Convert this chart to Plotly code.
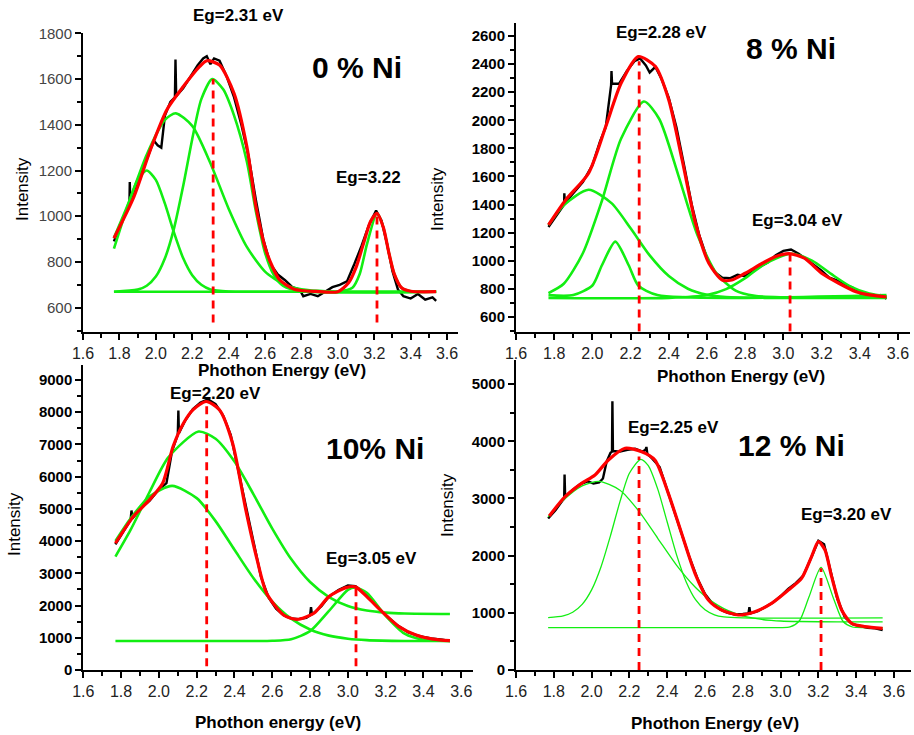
import plotly.graph_objects as go

# ================= DATA =================
x_tick_vals = [1.6, 1.8, 2.0, 2.2, 2.4, 2.6, 2.8, 3.0, 3.2, 3.4, 3.6]
x_tick_text = ["1.6", "1.8", "2.0", "2.2", "2.4", "2.6", "2.8", "3.0", "3.2", "3.4", "3.6"]

# ---- 0 % Ni ----
ni0_y_ticks = [600, 800, 1000, 1200, 1400, 1600, 1800]
ni0_data_x = [1.77, 1.80, 1.84, 1.855, 1.857, 1.86, 1.90, 1.94, 1.97, 1.99, 2.01, 2.03, 2.05, 2.08, 2.105, 2.108,
              2.112, 2.15, 2.19, 2.23, 2.26, 2.28, 2.30, 2.32, 2.35, 2.39, 2.43, 2.47, 2.51, 2.55, 2.59, 2.63, 2.67,
              2.71, 2.75, 2.79, 2.81, 2.85, 2.89, 2.93, 2.97, 3.01, 3.05, 3.09, 3.13, 3.17, 3.21, 3.24, 3.27, 3.30,
              3.33, 3.36, 3.40, 3.44, 3.48, 3.52, 3.54]
ni0_data_y = [890, 955, 1030, 1050, 1150, 1055, 1140, 1230, 1290, 1330, 1310, 1300, 1440, 1500, 1520, 1685,
              1525, 1560, 1610, 1660, 1690, 1700, 1665, 1690, 1680, 1610, 1520, 1400, 1260, 1070, 900, 790, 745,
              720, 690, 680, 650, 660, 650, 670, 690, 700, 715, 790, 870, 960, 1025, 980, 880, 760,
              680, 650, 640, 660, 635, 645, 630]
ni0_fit_x = [1.77, 1.88, 1.97, 2.06, 2.15, 2.24, 2.28, 2.35, 2.43, 2.50, 2.55, 2.61, 2.68, 2.76, 2.88, 3.00,
             3.06, 3.10, 3.14, 3.18, 3.215, 3.25, 3.28, 3.31, 3.35, 3.40, 3.54]
ni0_fit_y = [904, 1086, 1290, 1465, 1566, 1654, 1680, 1661, 1537, 1305, 1042, 839, 722, 681, 671, 670,
             710, 776, 878, 978, 1013, 951, 841, 747, 687, 672, 670]
ni0_c1_x = [1.77, 1.85, 1.90, 1.95, 2.00, 2.05, 2.10, 2.15, 2.20, 2.25, 2.30, 2.40, 2.60, 3.54]
ni0_c1_y = [858, 1055, 1159, 1200, 1159, 1055, 928, 817, 742, 700, 680, 671, 670, 670]
ni0_c2_x = [1.77, 1.85, 1.95, 2.05, 2.11, 2.20, 2.30, 2.40, 2.50, 2.60, 2.70, 2.80, 2.95, 3.54]
ni0_c2_y = [906, 1058, 1269, 1422, 1450, 1395, 1232, 1033, 866, 758, 703, 680, 671, 670]
ni0_c3_x = [1.77, 1.90, 1.95, 2.00, 2.05, 2.10, 2.15, 2.20, 2.25, 2.31, 2.37, 2.43, 2.50, 2.55, 2.60, 2.65,
            2.70, 2.80, 3.54]
ni0_c3_y = [670, 679, 696, 736, 816, 947, 1131, 1337, 1512, 1600, 1555, 1440, 1240, 1020, 840, 740,
            695, 672, 670]
ni0_c4_x = [1.77, 2.90, 3.00, 3.08, 3.12, 3.16, 3.215, 3.25, 3.28, 3.31, 3.35, 3.40, 3.50, 3.54]
ni0_c4_y = [670, 670, 670, 687, 747, 878, 1013, 951, 841, 747, 687, 672, 670, 670]
ni0_eg_x = [2.315, 3.215]
ni0_eg_top = [1600, 1000]
ni0_eg_bottom = 535

# ---- 8 % Ni ----
ni8_y_ticks = [600, 800, 1000, 1200, 1400, 1600, 1800, 2000, 2200, 2400, 2600]
ni8_data_x = [1.77, 1.80, 1.84, 1.852, 1.853, 1.856, 1.90, 1.95, 2.00, 2.04, 2.07, 2.098, 2.10, 2.103, 2.14,
              2.18, 2.22, 2.25, 2.28, 2.30, 2.33, 2.36, 2.40, 2.44, 2.48, 2.52, 2.56, 2.60, 2.64, 2.68, 2.72,
              2.76, 2.80, 2.84, 2.88, 2.92, 2.96, 3.00, 3.04, 3.08, 3.12, 3.16, 3.20, 3.24, 3.28, 3.32, 3.36,
              3.40, 3.44, 3.48, 3.51, 3.54]
ni8_data_y = [1240, 1300, 1380, 1400, 1480, 1410, 1480, 1560, 1680, 1850, 1950, 2250, 2350, 2260, 2260,
              2350, 2420, 2440, 2390, 2340, 2380, 2300, 2160, 1950, 1680, 1400, 1180, 1020, 920, 880, 875,
              900, 890, 930, 960, 990, 1040, 1070, 1080, 1050, 1010, 970, 930, 880, 860, 830, 810,
              770, 750, 740, 755, 730]
ni8_fit_x = [1.77, 1.86, 1.98, 2.07, 2.15, 2.24, 2.33, 2.40, 2.47, 2.54, 2.61, 2.68, 2.73, 2.80, 2.89, 2.96,
             3.03, 3.11, 3.20, 3.29, 3.38, 3.46, 3.54]
ni8_fit_y = [1255, 1433, 1623, 1955, 2263, 2453, 2382, 2144, 1717, 1267, 982, 863, 863, 911, 982, 1030,
             1050, 1018, 911, 840, 780, 755, 742]
ni8_c1_x = [1.77, 1.85, 1.98, 2.10, 2.20, 2.30, 2.40, 2.50, 2.60, 2.70, 2.90, 3.54]
ni8_c1_y = [1255, 1395, 1505, 1410, 1231, 1038, 891, 801, 758, 742, 736, 735]
ni8_c2_x = [1.77, 1.90, 2.00, 2.05, 2.12, 2.19, 2.24, 2.34, 3.54]
ni8_c2_y = [755, 756, 824, 968, 1136, 968, 824, 756, 755]
ni8_c3_x = [1.77, 1.85, 1.95, 2.05, 2.15, 2.27, 2.35, 2.45, 2.55, 2.65, 2.75, 2.85, 3.00, 3.54]
ni8_c3_y = [770, 836, 1053, 1427, 1868, 2133, 2009, 1608, 1183, 909, 788, 750, 740, 740]
ni8_c4_x = [1.77, 2.40, 2.60, 2.70, 2.80, 2.90, 3.04, 3.15, 3.25, 3.35, 3.45, 3.54]
ni8_c4_y = [735, 736, 756, 798, 876, 975, 1050, 1001, 906, 818, 766, 745]
ni8_eg_x = [2.245, 3.035]
ni8_eg_top = [2420, 1053]
ni8_eg_bottom = 496

# ---- 10 % Ni ----
ni10_y_ticks = [0, 1000, 2000, 3000, 4000, 5000, 6000, 7000, 8000, 9000]
ni10_data_x = [1.77, 1.82, 1.85, 1.855, 1.86, 1.90, 1.95, 2.00, 2.04, 2.07, 2.10, 2.103, 2.106, 2.14, 2.18,
               2.22, 2.26, 2.30, 2.34, 2.38, 2.42, 2.46, 2.50, 2.54, 2.58, 2.62, 2.66, 2.70, 2.74, 2.78, 2.80,
               2.805, 2.81, 2.86, 2.90, 2.95, 3.00, 3.04, 3.08, 3.14, 3.20, 3.26, 3.32, 3.38, 3.44, 3.50, 3.54]
ni10_data_y = [3900, 4350, 4650, 4950, 4700, 5000, 5250, 5600, 5800, 6800, 7300, 8050, 7350, 7750, 8100,
               8300, 8400, 8250, 7900, 7300, 6200, 5000, 3900, 2900, 2250, 1900, 1700, 1600, 1580, 1620, 1700,
               1950, 1720, 1980, 2280, 2480, 2620, 2600, 2420, 2050, 1700, 1400, 1170, 1050, 980, 940, 900]
ni10_fit_x = [1.77, 1.865, 1.95, 2.02, 2.075, 2.13, 2.18, 2.25, 2.32, 2.39, 2.46, 2.52, 2.57, 2.66, 2.73,
              2.82, 2.90, 2.99, 3.04, 3.10, 3.19, 3.27, 3.36, 3.45, 3.54]
ni10_fit_y = [3934, 4762, 5280, 5797, 6936, 7660, 8075, 8333, 8075, 7039, 4969, 3416, 2381, 1708, 1573,
              1760, 2277, 2557, 2580, 2277, 1760, 1346, 1087, 960, 910]
ni10_c1_x = [1.77, 1.85, 1.95, 2.07, 2.20, 2.30, 2.40, 2.50, 2.60, 2.70, 2.80, 2.90, 3.00, 3.10, 3.30, 3.54]
ni10_c1_y = [4005, 4703, 5387, 5714, 5334, 4621, 3731, 2854, 2123, 1593, 1256, 1067, 971, 927, 901, 900]
ni10_c2_x = [1.77, 1.85, 1.95, 2.05, 2.21, 2.30, 2.40, 2.50, 2.60, 2.70, 2.80, 2.90, 3.00, 3.10, 3.20, 3.30,
             3.54]
ni10_c2_y = [3520, 4346, 5516, 6598, 7402, 7176, 6468, 5460, 4390, 3444, 2731, 2264, 1989, 1848, 1782, 1755,
             1740]
ni10_c3_x = [1.77, 2.50, 2.60, 2.70, 2.80, 2.90, 3.00, 3.04, 3.10, 3.20, 3.30, 3.40, 3.54]
ni10_c3_y = [900, 900, 906, 955, 1205, 1833, 2484, 2560, 2394, 1682, 1127, 937, 900]
ni10_eg_x = [2.253, 3.043]
ni10_eg_top = [8282, 2536]
ni10_eg_bottom = 120

# ---- 12 % Ni ----
ni12_y_ticks = [0, 1000, 2000, 3000, 4000, 5000]
ni12_data_x = [1.77, 1.81, 1.85, 1.855, 1.857, 1.86, 1.90, 1.94, 1.98, 2.01, 2.04, 2.06, 2.08, 2.10, 2.108,
               2.11, 2.113, 2.15, 2.19, 2.23, 2.27, 2.285, 2.29, 2.295, 2.32, 2.36, 2.40, 2.44, 2.48, 2.52,
               2.56, 2.60, 2.64, 2.68, 2.72, 2.76, 2.80, 2.83, 2.835, 2.84, 2.88, 2.92, 2.96, 3.00, 3.04, 3.08,
               3.12, 3.16, 3.20, 3.23, 3.26, 3.30, 3.34, 3.38, 3.42, 3.46, 3.50, 3.54]
ni12_data_y = [2650, 2800, 2980, 3000, 3420, 3030, 3150, 3250, 3300, 3260, 3280, 3350, 3650, 3800, 3820,
               4700, 3830, 3820, 3850, 3870, 3820, 3850, 3900, 3780, 3700, 3550, 3150, 2750, 2350, 1950,
               1600, 1330, 1160, 1060, 1000, 970, 980, 990, 1100, 990, 1030, 1100, 1180, 1290, 1420, 1520,
               1650, 1950, 2260, 2200, 1800, 1250, 920, 800, 770, 740, 730, 700]
ni12_fit_x = [1.776, 1.86, 1.947, 2.018, 2.089, 2.177, 2.265, 2.335, 2.406, 2.476, 2.547, 2.618, 2.688,
              2.776, 2.864, 2.952, 3.041, 3.111, 3.164, 3.20, 3.235, 3.27, 3.323, 3.376, 3.446, 3.54]
ni12_fit_y = [2694, 3032, 3265, 3411, 3673, 3878, 3819, 3673, 3090, 2391, 1691, 1224, 1050,
              962, 1020, 1166, 1399, 1603, 1983, 2245, 2099, 1633, 1050, 816, 758, 729]
ni12_c1_x = [1.77, 1.85, 1.95, 2.04, 2.15, 2.25, 2.35, 2.45, 2.55, 2.60, 2.65, 2.70, 2.75, 2.80, 2.85, 2.90,
             2.95, 3.00, 3.10, 3.30, 3.54]
ni12_c1_y = [2680, 2970, 3221, 3300, 3145, 2779, 2304, 1831, 1442, 1292, 1170, 1074, 1002, 948, 911, 884,
             868, 857, 848, 841, 840]
ni12_c2_x = [1.77, 1.85, 1.90, 1.95, 2.00, 2.05, 2.10, 2.15, 2.20, 2.26, 2.30, 2.35, 2.40, 2.45, 2.50, 2.55,
             2.60, 2.65, 2.70, 2.80, 3.54]
ni12_c2_y = [916, 947, 1010, 1147, 1401, 1806, 2350, 2944, 3441, 3685, 3574, 3163, 2588, 2009, 1543, 1229,
             1054, 966, 929, 911, 910]
ni12_c3_x = [1.77, 2.90, 3.00, 3.05, 3.10, 3.15, 3.214, 3.28, 3.33, 3.38, 3.45, 3.54]
ni12_c3_y = [741, 741, 741, 753, 861, 1275, 1796, 1252, 853, 752, 741, 741]
ni12_eg_x = [2.251, 3.214]
ni12_eg_top = [3732, 1778]
ni12_eg_bottom = 0

# ================= FIGURE =================
W, H = 914, 735
FONT = "Liberation Sans, Arial, sans-serif"
GREEN = "#12ee12"
RED = "#ff0000"

fig = go.Figure()


def px_x(p):
    return p / W


def px_y(p):
    return 1 - p / H


def add_panel(k, data_x, data_y, comps, fit_x, fit_y, eg_x, eg_top, eg_bottom, gw):
    xa = "x" if k == 1 else f"x{k}"
    ya = "y" if k == 1 else f"y{k}"
    common = dict(xaxis=xa, yaxis=ya, mode="lines", hoverinfo="skip", showlegend=False)
    fig.add_trace(go.Scatter(x=data_x, y=data_y, line=dict(color="black", width=2.4), **common))
    for cx, cy in comps:
        fig.add_trace(go.Scatter(x=cx, y=cy, line=dict(color=GREEN, width=gw, shape="spline", smoothing=0.7),
                                 **common))
    fig.add_trace(go.Scatter(x=fit_x, y=fit_y, line=dict(color=RED, width=3.2, shape="spline", smoothing=0.7),
                             **common))
    for ex, et in zip(eg_x, eg_top):
        fig.add_trace(go.Scatter(x=[ex, ex], y=[eg_bottom, et],
                                 line=dict(color=RED, width=2.8, dash="8px,6px"), **common))


add_panel(1, ni0_data_x, ni0_data_y,
          [(ni0_c1_x, ni0_c1_y), (ni0_c2_x, ni0_c2_y), (ni0_c3_x, ni0_c3_y), (ni0_c4_x, ni0_c4_y)],
          ni0_fit_x, ni0_fit_y, ni0_eg_x, ni0_eg_top, ni0_eg_bottom, 2.6)
add_panel(2, ni8_data_x, ni8_data_y,
          [(ni8_c1_x, ni8_c1_y), (ni8_c2_x, ni8_c2_y), (ni8_c3_x, ni8_c3_y), (ni8_c4_x, ni8_c4_y)],
          ni8_fit_x, ni8_fit_y, ni8_eg_x, ni8_eg_top, ni8_eg_bottom, 2.6)
add_panel(3, ni10_data_x, ni10_data_y,
          [(ni10_c1_x, ni10_c1_y), (ni10_c2_x, ni10_c2_y), (ni10_c3_x, ni10_c3_y)],
          ni10_fit_x, ni10_fit_y, ni10_eg_x, ni10_eg_top, ni10_eg_bottom, 2.6)
add_panel(4, ni12_data_x, ni12_data_y,
          [(ni12_c1_x, ni12_c1_y), (ni12_c2_x, ni12_c2_y), (ni12_c3_x, ni12_c3_y)],
          ni12_fit_x, ni12_fit_y, ni12_eg_x, ni12_eg_top, ni12_eg_bottom, 1.3)


def xaxis(dom_px, rng, anchor):
    return dict(domain=[px_x(dom_px[0]), px_x(dom_px[1])], range=rng, anchor=anchor, automargin=False,
                showline=True, linecolor="black", linewidth=2, showgrid=False, zeroline=False,
                tickmode="array", tickvals=x_tick_vals, ticktext=x_tick_text,
                ticks="outside", ticklen=6, tickwidth=2, tickcolor="black",
                tickfont=dict(family=FONT, size=16, color="#222"),
                minor=dict(dtick=0.1, tick0=1.6, ticks="outside", ticklen=4, tickwidth=1.5, tickcolor="black"))


def yaxis(dom_px, rng, anchor, ticks, bold, minor_step, color="black"):
    return dict(domain=[px_y(dom_px[1]), px_y(dom_px[0])], range=rng, anchor=anchor, automargin=False,
                showline=True, linecolor="black", linewidth=2, showgrid=False, zeroline=False,
                tickmode="array", tickvals=ticks, ticktext=[str(t) for t in ticks],
                ticks="outside", ticklen=6, tickwidth=2, tickcolor="black",
                tickfont=dict(family=FONT, size=15, color=color, weight="bold" if bold else "normal"),
                minor=dict(dtick=minor_step, tick0=0, ticks="outside", ticklen=4, tickwidth=1.5,
                           tickcolor="black"))


fig.update_layout(
    template="none",
    width=W, height=H, margin=dict(l=0, r=0, t=0, b=0, autoexpand=False),
    paper_bgcolor="white", plot_bgcolor="white", showlegend=False,
    xaxis=xaxis((83, 458), [1.6, 3.66], "y"),
    yaxis=yaxis((33.3, 331.7), [495, 1800], "x", ni0_y_ticks, False, 100, "#444"),
    xaxis2=xaxis((516, 910), [1.6, 3.663], "y2"),
    yaxis2=yaxis((23.3, 331.7), [495, 2690], "x2", ni8_y_ticks, True, 100),
    xaxis3=xaxis((83.3, 472.6), [1.6, 3.66], "y3"),
    yaxis3=yaxis((365, 670), [0, 9466], "x3", ni10_y_ticks, True, 500),
    xaxis4=xaxis((516, 911), [1.6, 3.69], "y4"),
    yaxis4=yaxis((360, 670), [0, 5422], "x4", ni12_y_ticks, True, 500),
)

labels = [
    ("Eg=2.31 eV", 238, 15, 17, True, 0),
    ("0 % Ni", 357, 67, 30, True, 0),
    ("Eg=3.22", 368, 177, 17, True, 0),
    ("Phothon Energy (eV)", 282, 370, 17, True, 0),
    ("Intensity", 23, 189, 17, False, -90),
    ("Eg=2.28 eV", 661, 33, 17, True, 0),
    ("8 % Ni", 791, 48, 30, True, 0),
    ("Eg=3.04 eV", 797, 220, 17, True, 0),
    ("Phothon Energy (eV)", 741, 376, 17, True, 0),
    ("Intensity", 437, 199, 17, False, -90),
    ("Eg=2.20 eV", 215, 393, 17, True, 0),
    ("10% Ni", 375, 448, 30, True, 0),
    ("Eg=3.05 eV", 371, 558, 17, True, 0),
    ("Phothon energy (eV)", 278, 722, 17, True, 0),
    ("Intensity", 14, 524, 17, False, -90),
    ("Eg=2.25 eV", 673, 427, 17, True, 0),
    ("12 % Ni", 791, 445, 30, True, 0),
    ("Eg=3.20 eV", 846, 514, 17, True, 0),
    ("Phothon Energy (eV)", 715, 723, 17, True, 0),
    ("Intensity", 447, 505, 17, False, -90),
]
for text, x, y, size, bold, ang in labels:
    fig.add_annotation(text=text, x=px_x(x), y=px_y(y), xref="paper", yref="paper",
                       xanchor="center", yanchor="middle", showarrow=False, textangle=ang,
                       font=dict(family=FONT, size=size, color="black", weight="bold" if bold else "normal"))

fig.write_html("out.html", config={"displayModeBar": False},
               post_script="document.body.style.margin='0';document.body.style.overflow='hidden';")
